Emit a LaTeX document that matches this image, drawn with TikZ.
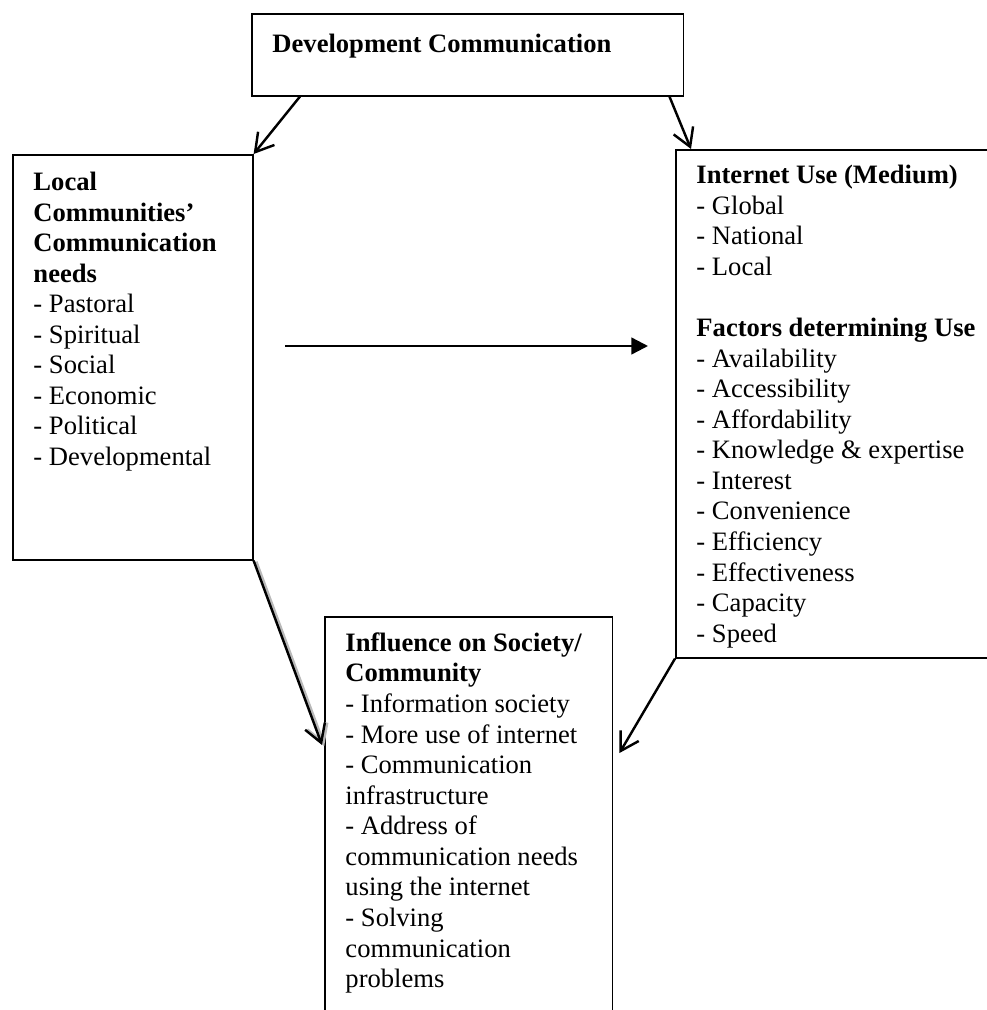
\documentclass[tikz,border=0pt]{standalone}
\usepackage{fontspec}
\setmainfont{Liberation Serif}
\usepackage{tikz}
\usetikzlibrary{positioning, arrows.meta}

\begin{document}
\begin{tikzpicture}[
    x=0.4515pt, y=-0.4515pt,
    box/.style={rectangle, draw, line width=0.7pt, anchor=north west, inner sep=0pt},
    txt/.style={inner sep=0pt, align=left, font=\fontsize{12}{13.8}\selectfont},
    arr/.style={line width=1.1pt, -{Straight Barb[length=8pt, width=9.5pt]}},
    arrfill/.style={line width=1.1pt, -{Triangle[length=7.5pt, width=7.5pt]}},
    shadowed/.style={preaction={draw=gray!55, line width=1.6pt, transform canvas={shift={(1pt,-0.5pt)}}}}
]

\useasboundingbox (0,0) rectangle (987,1010);
\clip (0,0) rectangle (987,1010);

% Boxes
\node[box, minimum width=195pt, minimum height=37pt] (dev) at (251,13) {};
\node[box, minimum width=108.4pt, minimum height=182.9pt] (local) at (12,154) {};
\node[box, minimum width=149pt, minimum height=229.4pt] (inet) at (675,149) {};
\node[box, minimum width=130pt, minimum height=182.4pt] (infl) at (324,616) {};

% Texts
\node[txt, below right=7.9pt and 9.5pt of dev.north west] (devtext) {\strut\textbf{Development Communication}};
\node[txt, below right=6.6pt and 9.5pt of local.north west] (localtext) {\strut\textbf{Local}\\
    \textbf{Communities'}\\ \textbf{Communication}\\ \textbf{needs}\\
    - Pastoral\\ - Spiritual\\ - Social\\ - Economic\\ - Political\\ - Developmental};
\node[txt, below right=5.8pt and 9.5pt of inet.north west] (inettext) {\strut\textbf{Internet Use (Medium)}\\
    - Global\\ - National\\ - Local\\[13.8pt]
    \textbf{Factors determining Use}\\
    - Availability\\ - Accessibility\\ - Affordability\\ - Knowledge \& expertise\\
    - Interest\\ - Convenience\\ - Efficiency\\ - Effectiveness\\ - Capacity\\ - Speed};
\node[txt, below right=6.1pt and 9.5pt of infl.north west] (infltext) {\strut\textbf{Influence on Society/}\\
    \textbf{Community}\\ - Information society\\ - More use of internet\\
    - Communication\\ infrastructure\\ - Address of\\ communication needs\\
    using the internet\\ - Solving\\ communication\\ problems};

% Arrows
\coordinate (m1) at (285,346);
\coordinate (m2) at (648,346);
\draw[arr] ([shift={(49,0)}]dev.south west) -- (local.north east);
\draw[arr] ([shift={(-15,0)}]dev.south east) -- ([shift={(16,0)}]inet.north west);
\draw[arrfill] (m1) -- (m2);
\draw[arr, shadowed] (local.south east) -- ([shift={(-2,129)}]infl.north west);
\draw[arr] (inet.south west) -- ([shift={(6,137)}]infl.north east);

\end{tikzpicture}
\end{document}
